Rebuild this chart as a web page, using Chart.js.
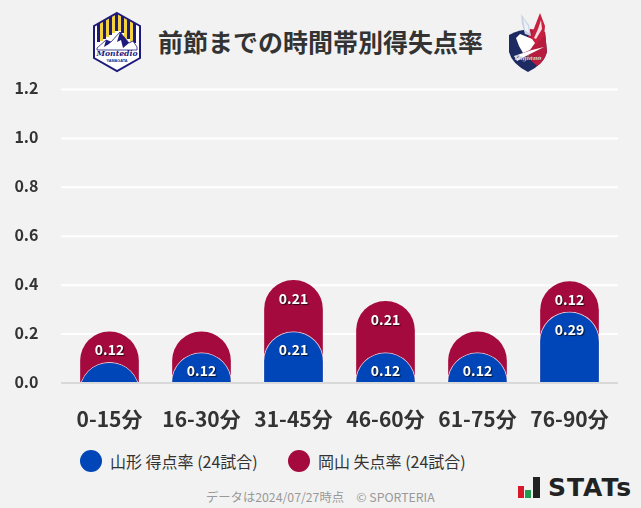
<!DOCTYPE html>
<html>
<head>
<meta charset="utf-8">
<script src="https://cdn.jsdelivr.net/npm/chart.js@4"></script>
<style>
  html, body { margin: 0; padding: 0; background: #f2f2f2; }
  body { width: 641px; height: 508px; position: relative; overflow: hidden; font-family: "Noto Sans CJK JP", "Noto Sans", sans-serif; }
  #wrap { position: absolute; left: 0; top: 0; width: 641px; height: 440px; }
  .abs { position: absolute; white-space: nowrap; }
  #title { left: 158px; top: 22px; font-size: 25px; line-height: 38px; font-weight: 700; color: #333; }
  .lg { top: 450px; font-size: 16px; line-height: 22px; color: #333; }
  .dot { top: 450px; width: 22px; height: 22px; border-radius: 50%; }
  #foot { left: 206px; top: 488px; font-size: 12.3px; line-height: 18px; color: #999; }
  #stats { left: 548px; top: 472px; font-family: "DejaVu Sans", sans-serif; font-size: 25px; line-height: 32px; font-weight: 700; color: #222; letter-spacing: 1px; }
</style>
</head>
<body>
<svg class="abs" style="left:92px;top:11px" width="50" height="62" viewBox="0 0 50 62">
  <defs><clipPath id="hex"><polygon points="25,2 48,15 48,47 25,60 2,47 2,15"/></clipPath></defs>
  <polygon points="25,2 48,15 48,47 25,60 2,47 2,15" fill="#fff"/>
  <g clip-path="url(#hex)">
    <rect x="5" y="10" width="3" height="21" fill="#1d1a7c"/>
    <rect x="8" y="10" width="3" height="20" fill="#f4d23c"/>
    <rect x="11" y="6" width="3" height="22" fill="#1d1a7c"/>
    <rect x="14" y="6" width="3" height="20" fill="#f4d23c"/>
    <rect x="17" y="2" width="3" height="22" fill="#1d1a7c"/>
    <rect x="20" y="2" width="3" height="20" fill="#f4d23c"/>
    <rect x="23" y="2" width="3" height="18" fill="#1d1a7c"/>
    <rect x="26" y="2" width="3" height="18" fill="#f4d23c"/>
    <rect x="29" y="2" width="3" height="20" fill="#1d1a7c"/>
    <rect x="32" y="6" width="3" height="22" fill="#f4d23c"/>
    <rect x="35" y="6" width="3" height="22" fill="#1d1a7c"/>
    <rect x="38" y="10" width="3" height="21" fill="#f4d23c"/>
    <rect x="41" y="10" width="3" height="22" fill="#1d1a7c"/>
  </g>
  <path d="M5 37 L14 29 L19 31 L28 21 L37 32 L41 30 L45 36 L45 39 L5 39Z" fill="#fff" stroke="#1d1a7c" stroke-width="0.8"/>
  <path d="M28 21 L25 31 L29 29 L31 37 L37 32Z M14 29 L12 36 L17 33 L19 31Z" fill="#1d1a7c"/>
  <polygon points="25,2 48,15 48,47 25,60 2,47 2,15" fill="none" stroke="#1d1a7c" stroke-width="2"/>
  <text x="25" y="45" text-anchor="middle" font-family="DejaVu Serif" font-style="italic" font-weight="700" font-size="8" fill="#1d1a7c" textLength="41" lengthAdjust="spacingAndGlyphs">Montedio</text>
  <text x="25" y="50.5" text-anchor="middle" font-family="Liberation Sans" font-weight="700" font-size="3.8" fill="#1d1a7c">YAMAGATA</text>
</svg>
<svg class="abs" style="left:506px;top:12px" width="44" height="62" viewBox="0 0 44 62">
  <path d="M3 23 Q20 14 39 20 L41 40 Q38 52 22 60 Q6 52 3 40Z" fill="#1e2a62"/>
  <path d="M24 17 L39 20 L41 40 Q38 50 31 54 L18 42Z" fill="#b71c3f"/>
  <path d="M15 2 L23 13 L25 24 L19 22 L16 12Z" fill="#c9d2e2"/>
  <path d="M17 6 L22 14 L23 21 L19 18Z" fill="#eef1f6"/>
  <path d="M34 1 L39 14 L38 24 L30 33 L25 30 L27 19Z" fill="#c8203f"/>
  <path d="M35 8 L36 17 L30 27 L28 26 L32 17Z" fill="#f6dfe2"/>
  <path d="M10 26 L14 22 L19 24 L26 27 L29 31 L24 38 L17 41 L13 34Z" fill="#fff"/>
  <path d="M8 44 L26 38 L38 35 L22 43 L11 49Z" fill="#fff"/>
  <text x="22" y="48" text-anchor="middle" font-family="DejaVu Serif" font-style="italic" font-weight="700" font-size="6" fill="#fff" stroke="#1e2a62" stroke-width="0.2">Fagiano</text>
</svg>
<div id="title" class="abs">前節までの時間帯別得失点率</div>
<div id="wrap"><canvas id="chart" width="641" height="440"></canvas></div>
<div class="dot abs" style="left:80px;background:#0046b8"></div>
<div class="lg abs" style="left:110px">山形 得点率 (24試合)</div>
<div class="dot abs" style="left:288px;background:#a50a3e"></div>
<div class="lg abs" style="left:318px">岡山 失点率 (24試合)</div>
<div id="foot" class="abs">データは2024/07/27時点　© SPORTERIA</div>
<svg class="abs" style="left:517px;top:476px" width="24" height="24" viewBox="0 0 24 24">
  <rect x="1" y="10" width="6" height="12" fill="#d7182a"/>
  <rect x="8" y="14" width="6" height="8" fill="#1f9d4d"/>
  <rect x="16" y="1" width="7" height="21" fill="#222"/>
</svg>
<div id="stats" class="abs">STATs</div>

<script>
const categories = ["0-15分","16-30分","31-45分","46-60分","61-75分","76-90分"];
const yamagataScored = [0.085,0.124,0.21,0.124,0.124,0.291];
const okayamaConceded = [0.124,0.085,0.21,0.21,0.085,0.124];
const yTicks = [0,0.2,0.4,0.6,0.8,1.0,1.2];
const fontName = '"Noto Sans CJK JP", "Noto Sans", sans-serif';

// bars start below zero and get clipped at the axis, so the round tops keep their full radius
const belowZero = -0.3;
const topValues = yamagataScored.map((v, i) => v + okayamaConceded[i]);

const gridPlugin = {
  id: "gridPlugin",
  beforeDatasetsDraw(chart) {
    const { ctx, chartArea, scales } = chart;
    ctx.save();
    ctx.lineWidth = 2;
    ctx.strokeStyle = "#fff";
    yTicks.forEach(t => {
      if (t === 0) return;
      const y = scales.y.getPixelForValue(t);
      ctx.beginPath();
      ctx.moveTo(chartArea.left - 2.5, y);
      ctx.lineTo(chartArea.right + 2.5, y);
      ctx.stroke();
    });
    ctx.restore();
  },
  afterDatasetsDraw(chart) {
    const { ctx, chartArea, scales } = chart;
    const y0 = scales.y.getPixelForValue(0);
    ctx.save();
    ctx.lineWidth = 2;
    ctx.strokeStyle = "#d9d9d9";
    ctx.beginPath();
    ctx.moveTo(chartArea.left - 2.5, y0);
    ctx.lineTo(chartArea.right + 2.5, y0);
    ctx.stroke();

    // value labels, under the top of each bar
    ctx.font = "700 14px " + fontName;
    ctx.textAlign = "center";
    ctx.textBaseline = "middle";
    ctx.fillStyle = "#fff";
    ctx.shadowColor = "rgba(0,0,0,0.75)";
    ctx.shadowOffsetX = 1;
    ctx.shadowOffsetY = 1;
    ctx.shadowBlur = 1;
    categories.forEach((c, i) => {
      const x = scales.x.getPixelForValue(i);
      if (yamagataScored[i] >= 0.1) {
        ctx.fillText(yamagataScored[i].toFixed(2), x, scales.y.getPixelForValue(yamagataScored[i]) + 18);
      }
      if (okayamaConceded[i] >= 0.1) {
        ctx.fillText(okayamaConceded[i].toFixed(2), x, scales.y.getPixelForValue(topValues[i]) + 18);
      }
    });
    ctx.restore();
  }
};

new Chart(document.getElementById("chart"), {
  type: "bar",
  data: {
    labels: categories,
    datasets: [
      {
        label: "山形 得点率 (24試合)",
        data: yamagataScored.map(v => [belowZero, v]),
        backgroundColor: "#0046b8",
        borderColor: "rgba(255,255,255,0.75)",
        borderWidth: 1,
        borderRadius: 30,
        borderSkipped: false,
        order: 0
      },
      {
        label: "岡山 失点率 (24試合)",
        data: topValues.map(v => [belowZero, v + 0.004]),
        backgroundColor: "#a50a3e",
        borderColor: "rgba(255,255,255,0.1)",
        borderWidth: 1,
        borderRadius: 30,
        borderSkipped: false,
        order: 1
      }
    ]
  },
  options: {
    responsive: false,
    animation: false,
    layout: { padding: { left: 0, right: 25.5, top: 89.5, bottom: 0 } },
    plugins: { legend: { display: false }, tooltip: { enabled: false } },
    scales: {
      x: {
        stacked: true,
        grid: { display: false },
        border: { display: false },
        ticks: { color: "#333", padding: 15, maxRotation: 0, autoSkip: false, font: { family: fontName, size: 21, weight: "700" } },
        afterFit(s) { s.height = 57; }
      },
      y: {
        min: 0,
        max: 1.2,
        afterBuildTicks(s) { s.ticks = yTicks.map(v => ({ value: v })); },
        grid: { display: false },
        border: { display: false },
        // empty second line with a tiny line height lifts the label a little above its grid line
        ticks: { color: "#333", padding: 17, callback: v => [v.toFixed(1), ""], font: { family: fontName, size: 16, weight: "700", lineHeight: "3px" } },
        afterFit(s) { s.width = 63.5; }
      }
    },
    datasets: { bar: { barThickness: 60 } }
  },
  plugins: [gridPlugin]
});
</script>
</body>
</html>
